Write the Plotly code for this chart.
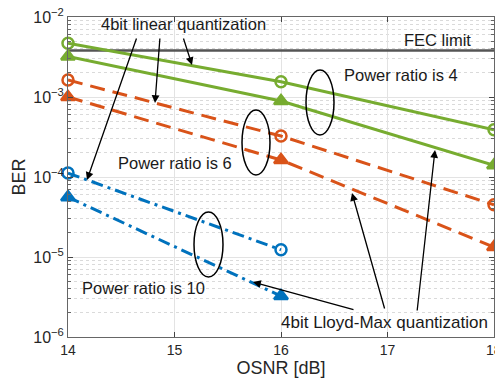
import plotly.graph_objects as go

osnr_full = [14, 16, 18]
osnr_short = [14, 16]

ber_p4_linear = [4.7e-3, 1.55e-3, 3.9e-4]
ber_p4_lloyd = [3.2e-3, 8.9e-4, 1.4e-4]
ber_p6_linear = [1.63e-3, 3.25e-4, 4.5e-5]
ber_p6_lloyd = [1.0e-3, 1.63e-4, 1.33e-5]
ber_p10_linear = [1.12e-4, 1.23e-5]
ber_p10_lloyd = [5.6e-5, 3.25e-6]
fec_limit = 3.8e-3

x_ticks = [14, 15, 16, 17, 18]
x_ticktext = ["14", "15", "16", "17", "18"]
y_tickvals = [1e-6, 1e-5, 1e-4, 1e-3, 1e-2]
y_ticktext = ["10<sup>−6</sup>", "10<sup>−5</sup>", "10<sup>−4</sup>", "10<sup>−3</sup>", "10<sup>−2</sup>"]

GREEN = "#77AC30"
ORANGE = "#D95319"
BLUE = "#0072BD"
FONT = "Liberation Sans, Arial"

fig = go.Figure()

fig.add_trace(go.Scatter(x=[14, 18], y=[fec_limit, fec_limit], mode="lines",
                         line=dict(color="#555555", width=2.5), cliponaxis=True))

def add(xs, ys, color, dash, symbol, size):
    fig.add_trace(go.Scatter(
        x=xs, y=ys, mode="lines+markers", cliponaxis=False,
        line=dict(color=color, width=3, dash=dash),
        marker=dict(symbol=symbol, size=size, color=color,
                    line=dict(color=color, width=2.5))))

add(osnr_full, ber_p4_linear, GREEN, "solid", "circle-open", 11)
add(osnr_full, ber_p4_lloyd, GREEN, "solid", "triangle-up", 12)
add(osnr_full, ber_p6_linear, ORANGE, "15px,8px", "circle-open", 11)
add(osnr_full, ber_p6_lloyd, ORANGE, "15px,8px", "triangle-up", 12)
add(osnr_short, ber_p10_linear, BLUE, "12px,5px,3px,5px", "circle-open", 11)
add(osnr_short, ber_p10_lloyd, BLUE, "12px,5px,3px,5px", "triangle-up", 12)

# pixel <-> data helpers (plot area: x 68..494, y 17..337)
L, R, T, B = 68, 494, 17, 337
def px2x(px):
    return 14 + (px - L) / (R - L) * 4
def py2ly(py):
    return -2 - (py - T) / (B - T) * 4

fontc = "#1a1a1a"
anns = []
def text(px, py, s, size=16.5):
    anns.append(dict(x=px2x(px), y=py2ly(py), text=s, showarrow=False,
                     font=dict(size=size, color=fontc, family=FONT)))
def arrow(hx, hy, tx, ty):
    anns.append(dict(x=px2x(hx), y=py2ly(hy), ax=tx - hx, ay=ty - hy, text="",
                     showarrow=True, arrowhead=2, arrowsize=1.2, arrowwidth=1.3,
                     arrowcolor="#000000"))

text(183, 24, "4bit linear quantization")
text(384, 322, "4bit Lloyd-Max quantization", 17)
text(401, 75, "Power ratio is 4")
text(175, 163, "Power ratio is 6")
text(143, 288, "Power ratio is 10")
text(437, 40, "FEC limit")

arrow(87, 180, 137, 37)
arrow(155, 103, 160, 37)
arrow(192, 65, 183, 37)
arrow(253, 282, 355, 310)
arrow(352, 193, 385, 310)
arrow(435, 150, 417, 312)

# tick label at the right edge (partly outside the canvas, as in the reference)
anns.append(dict(x=x_ticks[-1], y=0, xref="x", yref="paper", yanchor="top", yshift=-3,
                 text=x_ticktext[-1], showarrow=False,
                 font=dict(size=14, color="#262626", family=FONT)))

shapes = []
def ellipse(x0, x1, y0, y1):
    shapes.append(dict(type="circle", xref="x domain", yref="y domain",
                       x0=(x0 - L) / (R - L), x1=(x1 - L) / (R - L),
                       y0=(B - y1) / (B - T), y1=(B - y0) / (B - T),
                       line=dict(color="#000000", width=1.5)))

ellipse(306, 334, 70, 135)
ellipse(242, 270, 110, 175)
ellipse(194, 223, 212, 277)

fig.update_layout(
    width=495, height=383,
    margin=dict(l=68, r=1, t=17, b=46),
    paper_bgcolor="white", plot_bgcolor="white",
    showlegend=False,
    annotations=anns, shapes=shapes,
    font=dict(family=FONT, color="#262626"),
    xaxis=dict(range=[14, 18], tickvals=x_ticks, ticktext=x_ticktext,
               ticks="inside", ticklen=5,
               showline=True, linecolor="#666666", linewidth=1, mirror="ticks",
               showgrid=True, gridcolor="#e3e3e3", gridwidth=1,
               tickfont=dict(size=14, color="#262626"),
               title=dict(text="OSNR [dB]", font=dict(size=18), standoff=4),
               zeroline=False),
    yaxis=dict(type="log", range=[-6, -2], tickvals=y_tickvals, ticktext=y_ticktext,
               ticks="inside", ticklen=5,
               showline=True, linecolor="#666666", linewidth=1, mirror="ticks",
               showgrid=True, gridcolor="#e3e3e3", gridwidth=1,
               minor=dict(dtick="D1", ticks="inside", ticklen=3, showgrid=True, griddash="dot",
                          gridcolor="#dadada", tickcolor="#666666"),
               tickfont=dict(size=16, color="#262626"),
               title=dict(text="BER", font=dict(size=18), standoff=2),
               zeroline=False),
)

fig.write_html("out.html")
